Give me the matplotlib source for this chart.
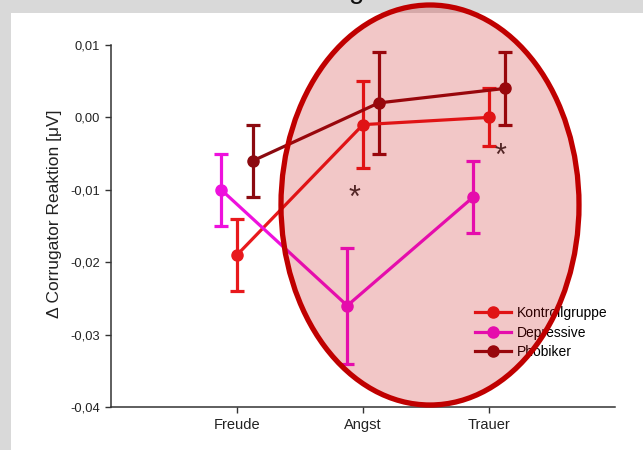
import matplotlib; matplotlib.use("Agg")
import matplotlib.pyplot as plt
from matplotlib.patches import Ellipse, Rectangle
from matplotlib.lines import Line2D

plt.rcParams["font.family"] = ["Liberation Sans", "DejaVu Sans"]

# emotion categories and group means / error (µV)
categories = ["Freude", "Angst", "Trauer"]
groups = ["Kontrollgruppe", "Depressive", "Phobiker"]
kontroll_mean = [-0.019, -0.001, 0.000]
kontroll_err = [0.005, 0.006, 0.004]
depressiv_mean = [-0.010, -0.026, -0.011]
depressiv_err = [0.005, 0.008, 0.005]
phobiker_mean = [-0.006, 0.002, 0.004]
phobiker_err = [0.005, 0.007, 0.005]
y_ticks = [-0.04, -0.03, -0.02, -0.01, 0.00, 0.01]
y_ticklabels = ["-0,04", "-0,03", "-0,02", "-0,01", "0,00", "0,01"]
# significance marks (x in category units, y in µV)
star_x = [1.93, 3.095]
star_y = [-0.0112, -0.0055]

W, H = 643, 450
fig = plt.figure(figsize=(W / 100, H / 100), dpi=100)
fig.patch.set_facecolor("#d9d9d9")
fig.patches.append(Rectangle((11 / W, 0), 1, 1 - 13 / H, transform=fig.transFigure,
                             fc="white", ec="none", zorder=-1))
fig.text(357 / W, 1 + 2 / H, "g", fontsize=20, ha="center", va="baseline", color="#111")

ax = fig.add_axes([111 / W, 1 - 407 / H, (615 - 111) / W, (407 - 45) / H])
ax.set_facecolor("none")

xs = [1, 2, 3]
off = 0.125
series = [
    (groups[0], kontroll_mean, kontroll_err, 0.0, "#e8191c"),
    (groups[1], depressiv_mean, depressiv_err, -off, "#ee11dd"),
    (groups[2], phobiker_mean, phobiker_err, off, "#8c0a10"),
]
handles = []
for name, m, e, dx, c in series:
    ax.errorbar([x + dx for x in xs], m, yerr=e, fmt="-o", color=c, lw=2.3, ms=8,
                elinewidth=2.3, capsize=5, capthick=2.3, label=name)
    handles.append(Line2D([], [], color=c, lw=2.3, marker="o", ms=8))

for sx, sy in zip(star_x, star_y):
    ax.text(sx, sy, "*", fontsize=22, ha="center", va="center", color="#333")

ax.set_xlim(0, 4)
ax.set_ylim(-0.04, 0.01)
ax.set_xticks(xs)
ax.set_xticklabels(categories, fontsize=10.5, color="#222")
ax.set_yticks(y_ticks)
ax.set_yticklabels(y_ticklabels, fontsize=9.3, color="#222")
ax.set_ylabel("\u0394 Corrugator Reaktion [\u03bcV]", fontsize=12.5, color="#222")
ax.yaxis.set_label_coords(-49 / 504, 0.535)
for s in ["top", "right"]:
    ax.spines[s].set_visible(False)
for s in ["left", "bottom"]:
    ax.spines[s].set_color("#333")
    ax.spines[s].set_linewidth(1.1)
ax.tick_params(direction="out", length=4, width=1, color="#333", pad=4)

ax.legend(handles=handles, labels=groups, loc="upper left",
          bbox_to_anchor=(475 / W, 1 - 306 / H), bbox_transform=fig.transFigure,
          frameon=False, fontsize=10, borderpad=0, borderaxespad=0,
          handlelength=2.6, handletextpad=0.45, labelspacing=0.4)

# highlight of the negative-emotion conditions
fig.patches.append(Ellipse((430 / W, 1 - 205 / H), 298 / W, 400 / H, transform=fig.transFigure,
                           fc=(0.78, 0.0, 0.0, 0.22), ec="#c00000", lw=3.8, zorder=5))

plt.savefig("out.png", dpi=100)
